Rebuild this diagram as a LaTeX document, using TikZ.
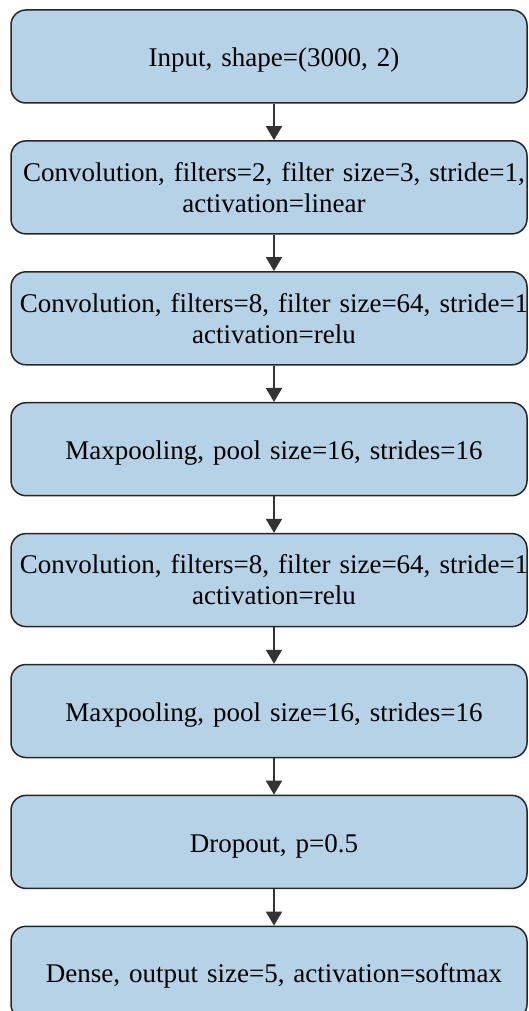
\documentclass[tikz,border=0pt]{standalone}
\usepackage{fontspec}
\setmainfont{Liberation Serif}
\usepackage{tikz}
\usetikzlibrary{shapes, arrows.meta}
\definecolor{layerblue}{RGB}{181,210,230}
\definecolor{layerline}{RGB}{38,38,38}
\definecolor{arrowgray}{RGB}{51,51,51}
\tikzstyle{layer} = [rectangle, draw = layerline, fill = layerblue, line width = 1.5pt, minimum width = 516pt, minimum height = 93pt, inner sep = 0pt, text width = 516pt, rounded corners = 15pt, font = \fontsize{27}{31}\selectfont, execute at begin node = {\parindent=0pt\leftskip=5pt plus 1fil\rightskip=-5pt plus 1fil\parfillskip=0pt}, execute at end node = {\rule{0pt}{26pt}}]
\tikzstyle{arrow} = [draw = arrowgray, -{Triangle[length = 14pt, width = 16pt]}, line width = 2pt]

\begin{document}
\begin{tikzpicture}[x = 1pt, y = 1pt]
            \useasboundingbox (0, 0) rectangle (529, -1011);
            \node[layer] (1) at (269, -56.5) {Input, shape=(3000, 2)};
            \node[layer] (2) at (269, -187.4) {Convolution, filters=2, filter size=3, stride=1, \\ activation=linear};
            \node[layer] (3) at (269, -318.3) {Convolution, filters=8, filter size=64, stride=1 \\ activation=relu};
            \node[layer] (4) at (269, -449.2) {Maxpooling, pool size=16, strides=16};
            \node[layer] (5) at (269, -580.1) {Convolution, filters=8, filter size=64, stride=1 \\ activation=relu};
            \node[layer] (6) at (269, -711.0) {Maxpooling, pool size=16, strides=16};
            \node[layer] (7) at (269, -841.9) {Dropout, p=0.5};
            \node[layer] (8) at (269, -972.8) {Dense, output size=5, activation=softmax};

            \path[arrow] ([xshift = 5pt]1.south) -- ([xshift = 5pt]2.north);
            \path[arrow] ([xshift = 5pt]2.south) -- ([xshift = 5pt]3.north);
            \path[arrow] ([xshift = 5pt]3.south) -- ([xshift = 5pt]4.north);
            \path[arrow] ([xshift = 5pt]4.south) -- ([xshift = 5pt]5.north);
            \path[arrow] ([xshift = 5pt]5.south) -- ([xshift = 5pt]6.north);
            \path[arrow] ([xshift = 5pt]6.south) -- ([xshift = 5pt]7.north);
            \path[arrow] ([xshift = 5pt]7.south) -- ([xshift = 5pt]8.north);
        \end{tikzpicture}
\end{document}
